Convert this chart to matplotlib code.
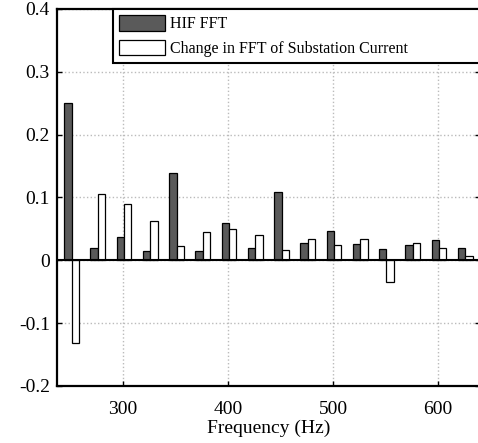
import matplotlib.pyplot as plt
import numpy as np

plt.rcParams['font.family'] = 'Liberation Serif'

# Harmonic frequencies (Hz)
freqs = [250, 275, 300, 325, 350, 375, 400, 425, 450, 475, 500, 525, 550, 575, 600, 625]
# HIF FFT magnitudes
hif_fft = [0.25, 0.020, 0.037, 0.014, 0.139, 0.014, 0.059, 0.020, 0.108, 0.028,
           0.046, 0.026, 0.018, 0.024, 0.032, 0.020]
# Change in FFT of substation current
change_fft = [-0.132, 0.106, 0.089, 0.062, 0.022, 0.045, 0.049, 0.040, 0.016, 0.033,
              0.024, 0.033, -0.035, 0.028, 0.020, 0.007]

yticks = [-0.2, -0.1, 0, 0.1, 0.2, 0.3, 0.4]
ytick_labels = ['-0.2', '-0.1', '0', '0.1', '0.2', '0.3', '0.4']
xticks = [300, 400, 500, 600]

fig = plt.figure(figsize=(4.78, 4.43), dpi=100)
ax = fig.add_axes([0.119, 0.129, 0.885, 0.851])

x = np.array(freqs)
bar_width = 7
ax.bar(x - 2.5, hif_fft, bar_width, color='#5a5a5a', edgecolor='black',
       linewidth=0.9, label='HIF FFT', zorder=3)
ax.bar(x + 4.5, change_fft, bar_width, color='white', edgecolor='black',
       linewidth=0.9, label='Change in FFT of Substation Current', zorder=3)

ax.axhline(0, color='black', linewidth=1.5, zorder=4)

ax.set_xlim(237, 640)
ax.set_ylim(-0.2, 0.4)
ax.set_xticks(xticks)
ax.set_yticks(yticks)
ax.set_yticklabels(ytick_labels)
ax.tick_params(direction='in', length=3.6, width=1, labelsize=14, right=True, top=False)
ax.tick_params(axis='x', pad=11)
ax.tick_params(axis='y', pad=5)
ax.set_xlabel('Frequency (Hz)', fontsize=14, labelpad=1)

ax.grid(True, linestyle=':', color='#bbbbbb', linewidth=1, zorder=0)
for s in ax.spines.values():
    s.set_linewidth(1.6)

leg = ax.legend(loc='upper left', bbox_to_anchor=(0.132, 0.0, 0.87, 1.0), mode='expand',
                borderaxespad=0, fontsize=11.5, handlelength=2.9, handleheight=1.1,
                handletextpad=0.3, labelspacing=0.45, fancybox=False,
                framealpha=1, borderpad=0.4)
leg.get_frame().set_edgecolor('black')
leg.get_frame().set_linewidth(1.5)

fig.savefig('out.png', dpi=100)
